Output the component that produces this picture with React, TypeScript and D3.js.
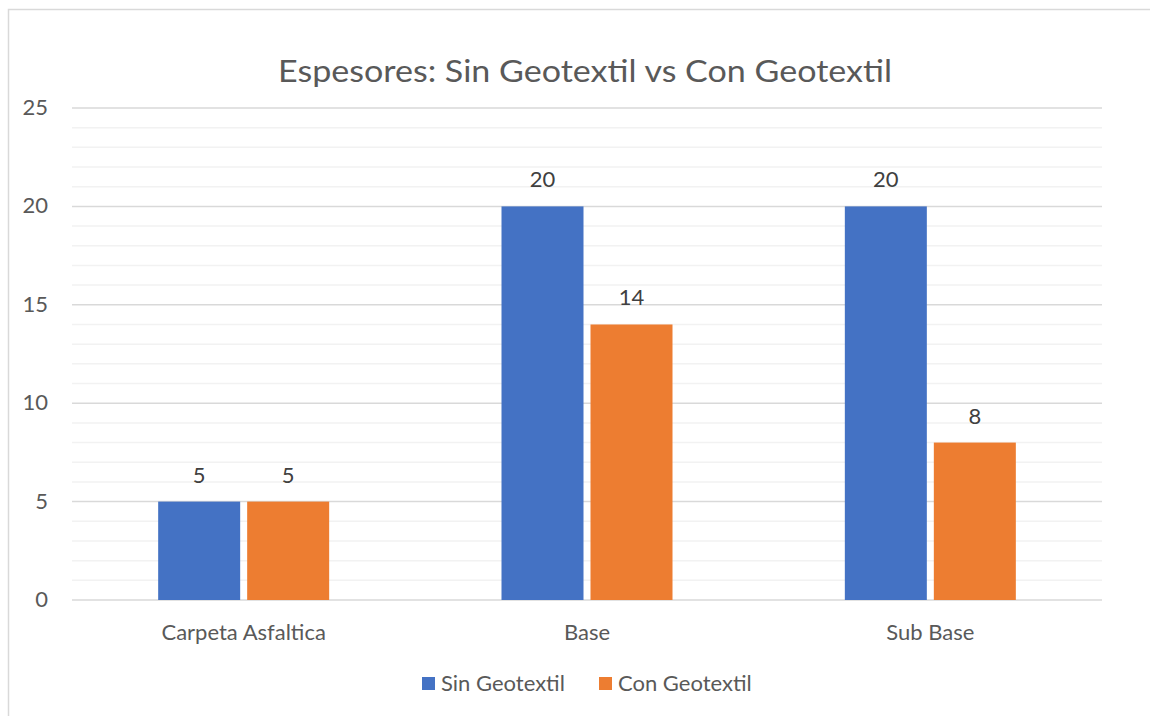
import React from "react";
import * as d3 from "d3";

const categories = ["Carpeta Asfaltica", "Base", "Sub Base"];
const seriesNames = ["Sin Geotextil", "Con Geotextil"];
const sinGeotextil = [5, 20, 20];
const conGeotextil = [5, 14, 8];
const yTicks = [0, 5, 10, 15, 20, 25];
const colors = ["#4472C4", "#ED7D31"];

const W = 1150;
const H = 716;
const FONT = "Lato, 'Open Sans', sans-serif";

export default function App() {
  const left = 72, right = 1102, top = 108, bottom = 600;
  const x = d3.scaleBand<string>().domain(categories).range([left, right]).paddingInner(0).paddingOuter(0);
  const y = d3.scaleLinear().domain([0, 25]).range([bottom, top]);
  const minor = d3.range(0, 26, 1).filter((v) => v % 5 !== 0);
  const bw = x.bandwidth();
  const barW = 82;
  const gap = 7;
  const series = [sinGeotextil, conGeotextil];

  return (
    <svg width={W} height={H} style={{ position: "absolute", left: 0, top: 0, background: "#fff" }} fontFamily={FONT}>
      <rect x={8.5} y={9.5} width={1200} height={800} fill="#fff" stroke="#d9d9d9" strokeWidth={1.5} />
      <text x={585} y={82} textAnchor="middle" fontSize={30} fill="#595959" textLength={614} lengthAdjust="spacingAndGlyphs">
        Espesores: Sin Geotextil vs Con Geotextil
      </text>
      {minor.map((v) => (
        <line key={"m" + v} x1={left} x2={right} y1={y(v)} y2={y(v)} stroke="#f2f2f2" strokeWidth={1.5} />
      ))}
      {yTicks.map((v) => (
        <g key={"t" + v}>
          <line x1={left} x2={right} y1={y(v)} y2={y(v)} stroke="#d9d9d9" strokeWidth={1.5} />
          <text x={48} y={y(v) + 7} textAnchor="end" fontSize={22} fill="#595959">{v}</text>
        </g>
      ))}
      {categories.map((c, i) => {
        const cx = (x(c) as number) + bw / 2;
        const groupW = barW * 2 + gap;
        return (
          <g key={c}>
            {series.map((s, j) => {
              const bx = cx - groupW / 2 + j * (barW + gap);
              return (
                <g key={j}>
                  <rect x={bx} y={y(s[i])} width={barW} height={y(0) - y(s[i])} fill={colors[j]} />
                  <text x={bx + barW / 2} y={y(s[i]) - 19} textAnchor="middle" fontSize={22} fill="#404040">{s[i]}</text>
                </g>
              );
            })}
            <text x={cx} y={640} textAnchor="middle" fontSize={22} fill="#595959">{c}</text>
          </g>
        );
      })}
      {seriesNames.map((n, j) => {
        const lx = [422, 599][j];
        return (
          <g key={n}>
            <rect x={lx} y={677} width={13} height={13} fill={colors[j]} />
            <text x={lx + 19} y={691} fontSize={22} fill="#595959">{n}</text>
          </g>
        );
      })}
    </svg>
  );
}
